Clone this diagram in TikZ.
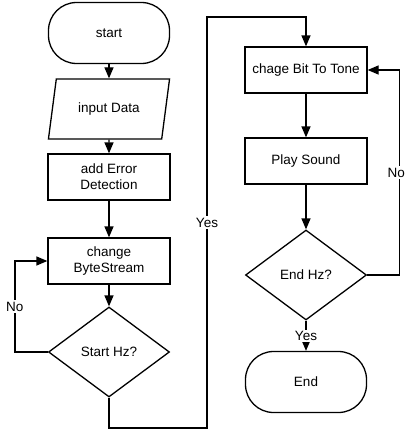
\documentclass[tikz,border=0pt]{standalone}
\usepackage{fontspec}
\setmainfont{Liberation Sans}
\usetikzlibrary{shapes.geometric,arrows.meta}

\begin{document}
\begin{tikzpicture}
	[x=1pt, y=-1pt, line width=1.3pt,
	every node/.style={draw, align=center, inner sep=1pt, font=\fontsize{13.5}{16}\selectfont},
	terminal/.style={rectangle, rounded corners=28pt, minimum width=121pt, minimum height=61pt},
	inout/.style={trapezium, trapezium left angle=72, trapezium right angle=108, trapezium stretches=true, minimum width=122pt, minimum height=60pt},
	process/.style={rectangle, minimum width=122pt, minimum height=46pt},
	decision/.style={diamond, minimum width=121pt, minimum height=90pt},
	lbl/.style={draw=none, fill=white, inner sep=1.5pt},
	flow/.style={-{Triangle[length=11pt,width=9pt]}}]
	\useasboundingbox[fill=white] (0,0) rectangle (405,431);

	% left column
	\node[terminal] (start) at (109,33) {start};
	\node[inout] (inp) at (109,109) {input Data};
	\node[process] (err) at (109,177) {add Error\\Detection};
	\node[process] (bytes) at (109,261) {change\\ByteStream};
	\node[decision] (shz) at (109,352) {Start Hz?};

	% right column
	\node[process] (tone) at (306,70) {chage Bit To Tone};
	\node[process] (play) at (306,161) {Play Sound};
	\node[decision] (ehz) at (306,275) {End Hz?};
	\node[terminal] (end) at (306,382) {End};

	\draw[flow] (start) -- (inp);
	\draw[flow] (inp) -- (err);
	\draw[flow] (err) -- (bytes);
	\draw[flow] (bytes) -- (shz);
	\draw[flow] (shz.west) -- ++(-33,0) |- node[lbl, pos=0.25]{No} (bytes.west);
	\draw[flow] (shz.south) |- (207,428) -- node[lbl]{Yes} (207,17) -| (tone.north);

	\draw[flow] (tone) -- (play);
	\draw[flow] (play) -- (ehz);
	\draw[flow] (ehz.east) -- ++(32,0) |- node[lbl, pos=0.25, xshift=-3pt]{No} (tone.east);
	\draw[flow] (ehz.south) -- node[lbl]{Yes} (end);
\end{tikzpicture}
\end{document}
